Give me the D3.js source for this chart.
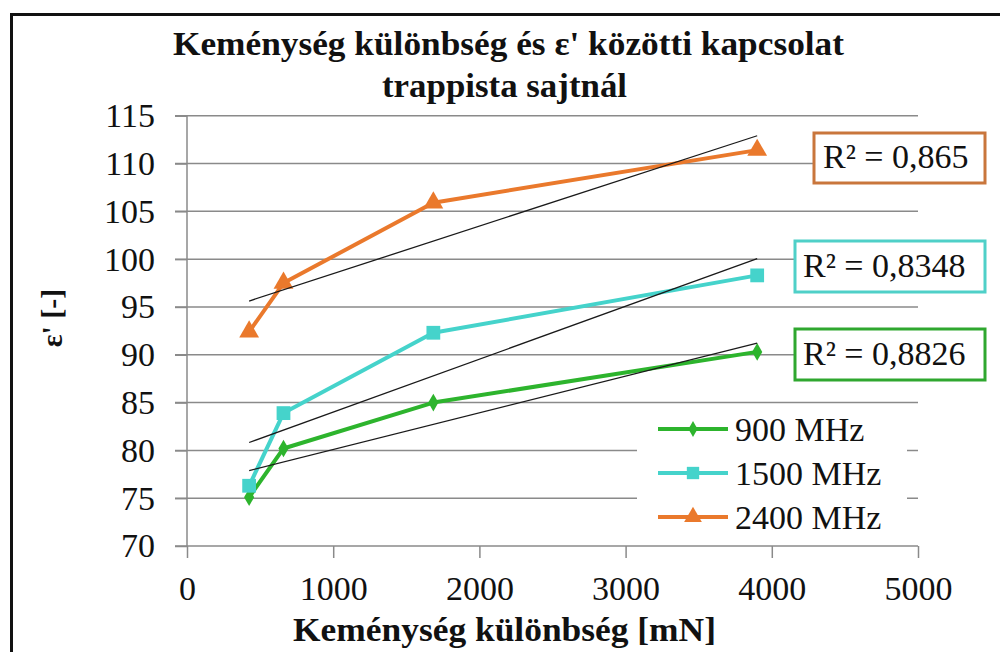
<html>
<head>
<meta charset="UTF-8">
<script src="https://d3js.org/d3.v7.min.js"></script>
</head>
<body style="margin:0">
<script>
// data
var xValues = [425, 660, 1685, 3900];
var seriesNames = ["900 MHz", "1500 MHz", "2400 MHz"];
var eps900 = [75.1, 80.2, 85.0, 90.3];
var eps1500 = [76.3, 83.9, 92.3, 98.3];
var eps2400 = [92.4, 97.5, 105.9, 111.4];
var r2Labels = ["R² = 0,8826", "R² = 0,8348", "R² = 0,865"];
var yTicks = [70, 75, 80, 85, 90, 95, 100, 105, 110, 115];
var xTicks = [0, 1000, 2000, 3000, 4000, 5000];

var FONT = "Liberation Serif";
var W = 1000, H = 652;
var svg = d3.select("body").append("svg")
    .attr("width", W).attr("height", H);

// frame (left + top edges, the rest is cut off)
svg.append("path")
    .attr("d", "M11.5,652 V14.5 H1000")
    .attr("fill", "none").attr("stroke", "#111").attr("stroke-width", 3);

var x = d3.scaleLinear().domain([0, 5000]).range([187, 918]);
var y = d3.scaleLinear().domain([70, 115]).range([546, 115.7]);

// gridlines
svg.append("g").selectAll("line")
    .data(yTicks.filter(function(d) { return d > 70; }))
    .enter().append("line")
    .attr("x1", 175).attr("x2", x(5000))
    .attr("y1", function(d) { return y(d); }).attr("y2", function(d) { return y(d); })
    .attr("stroke", "#8a8a8a").attr("stroke-width", 1.5);

// y axis
var yAxis = svg.append("g")
    .attr("transform", "translate(" + x(0) + ",0)")
    .call(d3.axisLeft(y).tickValues(yTicks).tickSize(12).tickPadding(20));
yAxis.attr("font-family", FONT).attr("font-size", 34);
yAxis.select(".domain").attr("stroke", "#8a8a8a").attr("stroke-width", 1.5)
    .attr("d", "M0," + y(70) + "V" + y(115));
yAxis.selectAll(".tick line").attr("stroke", "#8a8a8a").attr("stroke-width", 1.5);
yAxis.selectAll(".tick text")
    .attr("font-family", FONT).attr("font-size", 34)
    .attr("fill", "#111").attr("x", -32);

// x axis
var xAxis = svg.append("g")
    .attr("transform", "translate(0," + y(70) + ")")
    .call(d3.axisBottom(x).tickValues(xTicks).tickFormat(d3.format("d")).tickSize(12).tickPadding(8));
xAxis.attr("font-family", FONT).attr("font-size", 34);
xAxis.select(".domain").attr("stroke", "#8a8a8a").attr("stroke-width", 1.5)
    .attr("d", "M175,0H" + x(5000));
xAxis.selectAll(".tick line").attr("stroke", "#8a8a8a").attr("stroke-width", 1.5);
xAxis.selectAll(".tick text")
    .attr("font-family", FONT).attr("font-size", 34)
    .attr("fill", "#111").attr("dy", "1.0em");

var series = [
    { name: seriesNames[0], values: eps900, color: "#2db42d", box: "#2fa72f", marker: "diamond", r2: r2Labels[0] },
    { name: seriesNames[1], values: eps1500, color: "#45d3cb", box: "#4fd0c8", marker: "square", r2: r2Labels[1] },
    { name: seriesNames[2], values: eps2400, color: "#ea792c", box: "#c9763c", marker: "triangle", r2: r2Labels[2] }
];

var symbolType = {
    diamond: d3.symbolDiamond,
    square: d3.symbolSquare,
    triangle: d3.symbolTriangle
};
var symbolSize = { diamond: 90, square: 190, triangle: 170 };

// linear trend (least squares), drawn between first and last x
function linFit(xs, ys) {
    var mx = d3.mean(xs), my = d3.mean(ys);
    var sxy = d3.sum(xs, function(v, i) { return (v - mx) * (ys[i] - my); });
    var sxx = d3.sum(xs, function(v) { return (v - mx) * (v - mx); });
    var b = sxy / sxx;
    return function(v) { return my + b * (v - mx); };
}

var line = d3.line()
    .x(function(d) { return x(d[0]); })
    .y(function(d) { return y(d[1]); });

series.forEach(function(s) {
    var pts = xValues.map(function(v, i) { return [v, s.values[i]]; });
    svg.append("path").datum(pts)
        .attr("d", line)
        .attr("fill", "none").attr("stroke", s.color)
        .attr("stroke-width", 4).attr("stroke-linejoin", "round");
    svg.append("g").selectAll("path")
        .data(pts).enter().append("path")
        .attr("transform", function(d) { return "translate(" + x(d[0]) + "," + y(d[1]) + ")"; })
        .attr("d", d3.symbol().type(symbolType[s.marker]).size(symbolSize[s.marker]))
        .attr("fill", s.color);
});

series.forEach(function(s) {
    var f = linFit(xValues, s.values);
    var x0 = d3.min(xValues), x1 = d3.max(xValues);
    svg.append("line")
        .attr("x1", x(x0)).attr("y1", y(f(x0)))
        .attr("x2", x(x1)).attr("y2", y(f(x1)))
        .attr("stroke", "#1a1a1a").attr("stroke-width", 1.3);
});

// R² labels
var r2Boxes = [
    { x: 795, y: 329, w: 190, h: 51, tx: 803, ty: 365 },
    { x: 795, y: 241, w: 190, h: 51, tx: 803, ty: 277 },
    { x: 814, y: 133, w: 171, h: 50, tx: 823, ty: 168 }
];
series.forEach(function(s, i) {
    var b = r2Boxes[i];
    svg.append("rect")
        .attr("x", b.x).attr("y", b.y).attr("width", b.w).attr("height", b.h)
        .attr("fill", "#fff").attr("stroke", s.box).attr("stroke-width", 3);
    svg.append("text")
        .attr("x", b.tx).attr("y", b.ty)
        .attr("font-family", FONT).attr("font-size", 34).attr("fill", "#111")
        .text(s.r2);
});

// legend
var legend = svg.append("g");
legend.append("rect")
    .attr("x", 637).attr("y", 408).attr("width", 270).attr("height", 133)
    .attr("fill", "#fff");
series.forEach(function(s, i) {
    var ly = 429 + i * 44;
    legend.append("line")
        .attr("x1", 658).attr("x2", 728).attr("y1", ly).attr("y2", ly)
        .attr("stroke", s.color).attr("stroke-width", 4);
    legend.append("path")
        .attr("transform", "translate(693," + ly + ")")
        .attr("d", d3.symbol().type(symbolType[s.marker]).size(symbolSize[s.marker] * 0.8))
        .attr("fill", s.color);
    legend.append("text")
        .attr("x", 735).attr("y", ly + 12)
        .attr("font-family", FONT).attr("font-size", 34).attr("fill", "#111")
        .text(s.name);
});

// titles
function boldText(tx, ty, len, size, str) {
    return svg.append("text")
        .attr("x", tx).attr("y", ty)
        .attr("textLength", len).attr("lengthAdjust", "spacingAndGlyphs")
        .attr("font-family", FONT).attr("font-size", size).attr("font-weight", "bold")
        .attr("fill", "#111")
        .text(str);
}
boldText(173, 55, 671, 33, "Keménység különbség  és ε' közötti kapcsolat");
boldText(382, 97, 245, 33, "trappista  sajtnál");
boldText(293, 641, 423, 33, "Keménység különbség  [mN]");

svg.append("text")
    .attr("transform", "translate(62,318) rotate(-90)")
    .attr("text-anchor", "middle")
    .attr("font-family", FONT).attr("font-size", 30).attr("font-weight", "bold")
    .attr("fill", "#111")
    .text("ε' [-]");
</script>
</body>
</html>
